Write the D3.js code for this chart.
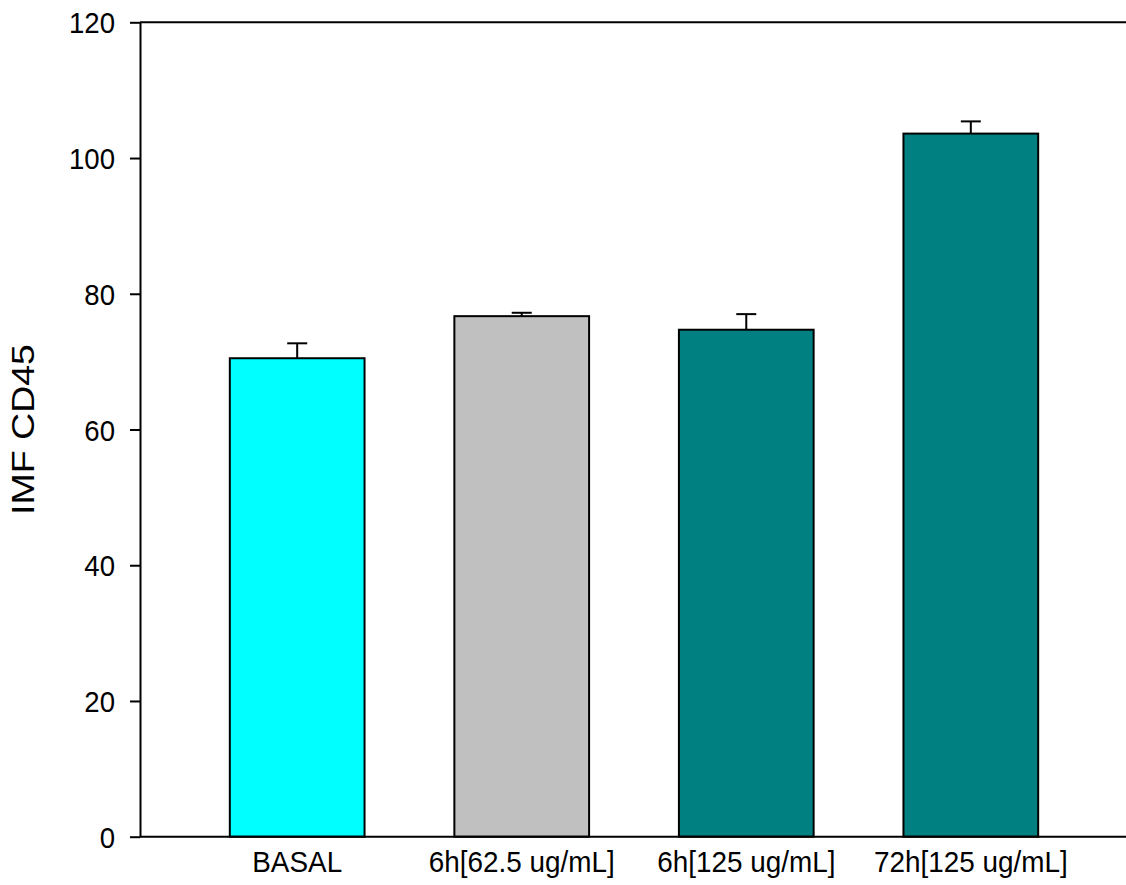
<!DOCTYPE html>
<html>
<head>
<meta charset="utf-8">
<script src="https://cdn.jsdelivr.net/npm/d3@7"></script>
<style>
  html, body { margin: 0; padding: 0; background: #fff; }
  svg { display: block; }
  text { font-family: "Liberation Sans", Arial, sans-serif; fill: #000; }
</style>
</head>
<body>
<svg id="chart" width="1126" height="885"></svg>
<script>
const categories = ["BASAL", "6h[62.5 ug/mL]", "6h[125 ug/mL]", "72h[125 ug/mL]"];
const values = [70.5, 76.7, 74.7, 103.6];
const errors = [2.2, 0.5, 2.3, 1.8];
const colors = ["#00FFFF", "#C0C0C0", "#008080", "#008080"];
const yTicks = [0, 20, 40, 60, 80, 100, 120];
const yTitle = "IMF CD45";

const svg = d3.select("#chart");
const x0 = 140, x1 = 1128, yBottom = 836.7, yTop = 22.3;

const x = d3.scaleBand().domain(categories).range([x0, x1]).paddingInner(0.4).paddingOuter(0.4);
const y = d3.scaleLinear().domain([0, 120]).range([yBottom, yTop]);

const data = categories.map((c, i) => ({ c, v: values[i], e: errors[i], col: colors[i] }));

// bars
svg.append("g").selectAll("rect").data(data).join("rect")
  .attr("x", d => x(d.c))
  .attr("y", d => y(d.v))
  .attr("width", x.bandwidth())
  .attr("height", d => y(0) - y(d.v))
  .attr("fill", d => d.col)
  .attr("stroke", "#000")
  .attr("stroke-width", 2);

// error bars
const eb = svg.append("g").attr("stroke", "#000").attr("stroke-width", 2);
data.forEach(d => {
  const cx = x(d.c) + x.bandwidth() / 2;
  eb.append("line").attr("x1", cx).attr("x2", cx).attr("y1", y(d.v)).attr("y2", y(d.v + d.e));
  eb.append("line").attr("x1", cx - 10).attr("x2", cx + 10).attr("y1", y(d.v + d.e)).attr("y2", y(d.v + d.e));
});

// y axis
const yAxis = svg.append("g").attr("transform", `translate(${x0},0)`)
  .call(d3.axisLeft(y).tickValues(yTicks).tickSize(10).tickPadding(16).tickSizeOuter(0));
yAxis.select(".domain").attr("stroke", "#000").attr("stroke-width", 2);
yAxis.selectAll(".tick line").attr("stroke", "#000").attr("stroke-width", 2);
yAxis.selectAll(".tick text")
  .attr("font-size", 30)
  .attr("font-family", "Liberation Sans, Arial, sans-serif")
  .attr("dy", "0.35em")
  .attr("x", 0).attr("text-anchor", "end")
  .attr("transform", "translate(-25,0) scale(0.92,1)");

// x axis (no ticks)
const xAxis = svg.append("g").attr("transform", `translate(0,${yBottom})`)
  .call(d3.axisBottom(x).tickSize(0).tickPadding(14).tickSizeOuter(0));
xAxis.select(".domain").attr("stroke", "#000").attr("stroke-width", 2)
  .attr("d", `M${x0},0H1126`);
xAxis.selectAll(".tick text")
  .attr("font-size", 30)
  .attr("font-family", "Liberation Sans, Arial, sans-serif")
  .attr("y", 0).attr("dy", 0)
  .attr("transform", "translate(0,35.5) scale(0.93,1)");

// top frame line
svg.append("line").attr("x1", x0).attr("x2", 1126).attr("y1", y(120)).attr("y2", y(120))
  .attr("stroke", "#000").attr("stroke-width", 2);

// y title
svg.append("text")
  .attr("transform", `translate(34,${(344 + 515) / 2}) rotate(-90) scale(1,0.86)`)
  .attr("text-anchor", "middle")
  .attr("font-size", 37.5)
  .text(yTitle);
</script>
</body>
</html>
